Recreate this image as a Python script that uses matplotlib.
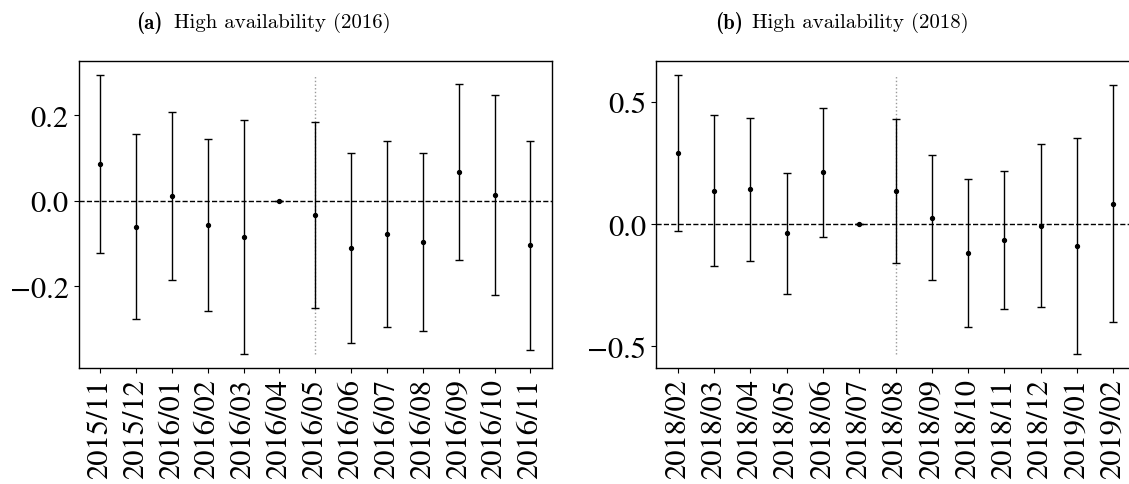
import matplotlib
matplotlib.use('Agg')
import matplotlib.pyplot as plt
import numpy as np

plt.rcParams['font.family'] = 'serif'
plt.rcParams['font.serif'] = ['STIXGeneral', 'Liberation Serif', 'DejaVu Serif']

# --- data ---
months_a = ['2015/11', '2015/12', '2016/01', '2016/02', '2016/03', '2016/04', '2016/05',
            '2016/06', '2016/07', '2016/08', '2016/09', '2016/10', '2016/11']
est_a = [0.085, -0.061, 0.011, -0.057, -0.084, 0.0, -0.034,
         -0.111, -0.078, -0.096, 0.068, 0.014, -0.104]
low_a = [-0.121, -0.276, -0.186, -0.257, -0.358, 0.0, -0.250,
         -0.333, -0.295, -0.304, -0.138, -0.219, -0.348]
high_a = [0.294, 0.156, 0.208, 0.144, 0.189, 0.0, 0.183,
          0.112, 0.139, 0.111, 0.274, 0.247, 0.140]

months_b = ['2018/02', '2018/03', '2018/04', '2018/05', '2018/06', '2018/07', '2018/08',
            '2018/09', '2018/10', '2018/11', '2018/12', '2019/01', '2019/02']
est_b = [0.291, 0.137, 0.143, -0.038, 0.212, 0.0, 0.135,
         0.027, -0.120, -0.066, -0.006, -0.088, 0.084]
low_b = [-0.028, -0.173, -0.150, -0.286, -0.054, 0.0, -0.159,
         -0.229, -0.422, -0.348, -0.339, -0.532, -0.401]
high_b = [0.611, 0.448, 0.435, 0.209, 0.475, 0.0, 0.431,
          0.284, 0.183, 0.216, 0.328, 0.354, 0.570]

event_idx = 6  # vertical marker month

panel_tags = ['(a)', '(b)']
panel_titles = ['High availability (2016)', 'High availability (2018)']

W, H = 1129, 485
fig = plt.figure(figsize=(W / 100, H / 100), dpi=100)

def px_axes(x0, x1, y0, y1):
    return fig.add_axes([x0 / W, 1 - y1 / H, (x1 - x0) / W, (y1 - y0) / H])

ax_a = px_axes(78.5, 552, 62, 369)
ax_b = px_axes(656, 1135, 62, 369)

def draw(ax, labels, est, low, high):
    x = np.arange(len(labels))
    est = np.array(est)
    yerr = [est - np.array(low), np.array(high) - est]
    ax.axhline(0, color='black', linestyle='--', linewidth=1, zorder=1)
    ax.vlines(event_idx, min(low), max(high), colors='#999999',
              linestyles=':', linewidth=1, zorder=1)
    ax.errorbar(x, est, yerr=yerr, fmt='o', color='black', markersize=2.8,
                elinewidth=1, capsize=3, capthick=1, zorder=3)
    ax.set_xticks(x)
    ax.set_xticklabels(labels, rotation=90)
    ax.tick_params(labelsize=22)
    for s in ax.spines.values():
        s.set_linewidth(1)

draw(ax_a, months_a, est_a, low_a, high_a)
draw(ax_b, months_b, est_b, low_b, high_b)
ax_a.set_yticks([-0.2, 0.0, 0.2])
ax_b.set_yticks([-0.5, 0.0, 0.5])

# subcaptions in Computer Modern
for tag, title, x_tag, x_title in zip(panel_tags, panel_titles, [136, 715], [174, 752]):
    fig.text(x_tag / W, 1 - 23 / H, tag, ha='left', va='center',
             family='cmb10', fontsize=15)
    fig.text(x_title / W, 1 - 23 / H, title, ha='left', va='center',
             family='cmr10', fontsize=15)

fig.savefig('out.png', dpi=100)
